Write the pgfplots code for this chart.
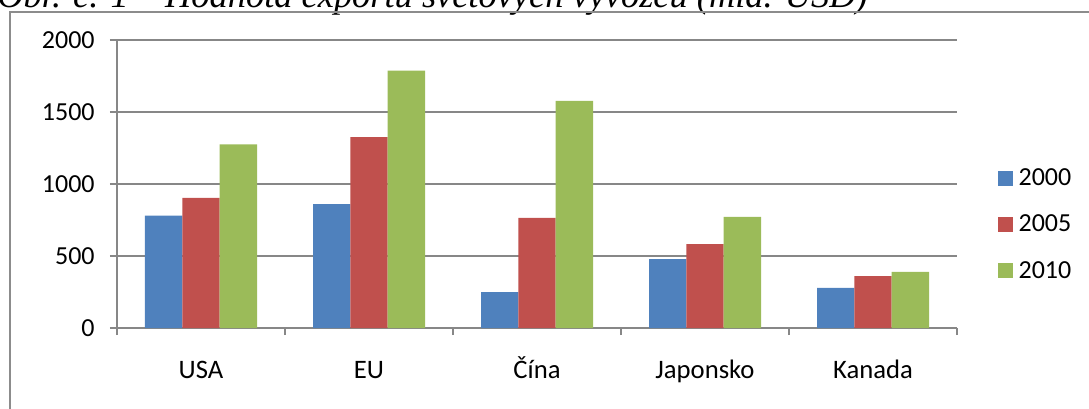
\documentclass[border=0pt]{standalone}
\usepackage{fontspec}
\setmainfont{Carlito}
\newfontfamily\titlefont{Liberation Serif}
\usepackage{pgfplots}
\pgfplotsset{compat=1.18}
\definecolor{sblue}{HTML}{4F81BD}
\definecolor{sred}{HTML}{C0504D}
\definecolor{sgreen}{HTML}{9BBB59}
\definecolor{axgray}{HTML}{878787}
\definecolor{framegray}{HTML}{8C8C8C}
\begin{document}
\begin{tikzpicture}[x=0.75pt,y=-0.75pt]
\useasboundingbox (0,0) rectangle (1089,408);
\clip (0,0) rectangle (1089,408);
\node[anchor=base east, inner sep=0pt, font=\titlefont\itshape\fontsize{27.3}{32}\selectfont] at (868,7) {Obr. č. 1 – Hodnota exportu světových vývozců (mld. USD)};
\draw[color=framegray, line width=1.5pt] (10,430) -- (10,12) -- (1100,12);
\coordinate (O) at (117,328);
\begin{axis}[at={(O)}, anchor=south west,
  width=630pt, height=216pt, scale only axis,
  xmin=-0.5, xmax=4.5, ymin=0, ymax=2000,
  ybar=0pt, bar width=28pt,
  axis x line*=bottom, axis y line*=left,
  axis line style={-, draw=axgray, line width=1.1pt},
  ytick={0,500,1000,1500,2000},
  ymajorgrids, grid style={axgray, line width=1.1pt},
  tick style={axgray, line width=1.1pt},
  tick align=outside, major tick length=5.25pt,
  xtick={-0.5,0.5,1.5,2.5,3.5,4.5}, xticklabels={},
  extra x ticks={0,1,2,3,4},
  extra x tick labels={USA,EU,Čína,Japonsko,Kanada},
  extra x tick style={major tick length=0pt, grid=none,
     xticklabel style={anchor=base, yshift=-37.5pt, font=\fontsize{20}{23}\selectfont}},
  ticklabel style={font=\fontsize{19.5}{23}\selectfont, text=black},
  yticklabel style={xshift=-8pt},
  /pgf/number format/assume math mode=true,
  /pgf/number format/1000 sep={},
  legend image code/.code={\fill[#1] (0pt,-5.6pt) rectangle (11.25pt,5.6pt);},
  legend style={draw=none, fill=none, at={(1.0488,0.3594)}, anchor=west,
    inner sep=0pt, row sep=16.4pt, font=\fontsize{19.5}{23}\selectfont,
    nodes={inner ysep=2pt, inner xsep=4pt}},
  legend cell align=left,
]
\addplot[fill=sblue, draw=none] coordinates {(0,780) (1,860) (2,250) (3,479) (4,278)};
\addplot[fill=sred, draw=none] coordinates {(0,903) (1,1326) (2,764) (3,583) (4,361)};
\addplot[fill=sgreen, draw=none] coordinates {(0,1275) (1,1787) (2,1578) (3,771) (4,389)};
\legend{2000,2005,2010}
\end{axis}
\end{tikzpicture}
\end{document}
